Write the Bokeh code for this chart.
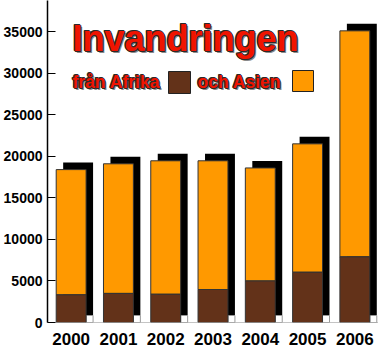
from bokeh.plotting import figure
from bokeh.models import Range1d, FactorRange, FixedTicker, Label, BoxAnnotation, ColumnDataSource
from bokeh.transform import dodge
from bokeh.embed import file_html
from bokeh.resources import INLINE

years = ["2000", "2001", "2002", "2003", "2004", "2005", "2006"]
afrika = [3330, 3500, 3400, 3970, 5000, 6050, 7900]
asien = [15070, 15600, 16060, 15490, 13600, 15450, 27200]
y_ticks = [0, 5000, 10000, 15000, 20000, 25000, 30000, 35000]

total = [a + b for a, b in zip(afrika, asien)]

W, H = 378, 353
LEFT, BOTTOM = 46, 31
FRAME_W = W - LEFT
FRAME_H = H - BOTTOM
YMAX = 38750

px_x = len(years) / FRAME_W      # category units per pixel
px_y = YMAX / FRAME_H           # data units per pixel
SH = 7                          # shadow offset in px

ORANGE = "#FF9900"
BROWN = "#633219"

src = ColumnDataSource(dict(
    years=years, afrika=afrika, total=total,
    sh_bottom=[SH * px_y] * len(years),
    sh_top=[t + SH * px_y for t in total],
    zero=[0] * len(years),
))

p = figure(width=W, height=H, x_range=FactorRange(*years, range_padding=0),
           y_range=Range1d(0, YMAX), output_backend="svg", toolbar_location=None,
           min_border_left=LEFT, min_border_right=0, min_border_top=0,
           min_border_bottom=BOTTOM)
p.outline_line_color = None
p.xgrid.visible = False
p.ygrid.visible = False
p.background_fill_color = "white"

bw = 30 * px_x
# shadow
p.vbar(x=dodge("years", SH * px_x, range=p.x_range), width=bw, bottom="sh_bottom",
       top="sh_top", source=src, fill_color="black", line_color=None)
# small floor box
p.vbar(x=dodge("years", (15 + SH / 2) * px_x, range=p.x_range), width=SH * px_x,
       bottom="zero", top="sh_bottom", source=src, fill_color="white",
       line_color="#999999", line_width=1)
# stacked bars
p.vbar(x="years", width=bw, bottom="afrika", top="total", source=src,
       fill_color=ORANGE, line_color="#333333", line_width=1)
p.vbar(x="years", width=bw, bottom="zero", top="afrika", source=src,
       fill_color=BROWN, line_color="#333333", line_width=1)

# axes
p.yaxis.ticker = FixedTicker(ticks=y_ticks)
p.yaxis.minor_tick_line_color = None
p.yaxis.major_tick_in = 8
p.yaxis.major_tick_out = 0
p.yaxis.major_tick_line_color = "black"
p.yaxis.axis_line_color = "black"
p.yaxis.axis_line_width = 1.5
p.yaxis.major_label_text_font = "Liberation Sans"
p.yaxis.major_label_text_font_style = "bold"
p.yaxis.major_label_text_font_size = "14px"
p.yaxis.major_label_text_color = "black"
p.yaxis.major_label_standoff = 5

p.xaxis.axis_line_color = "#888888"
p.xaxis.axis_line_dash = "1 1"
p.xaxis.major_tick_line_color = None
p.xaxis.major_tick_out = 0
p.xaxis.major_tick_in = 0
p.xaxis.major_label_text_font = "Liberation Sans"
p.xaxis.major_label_text_font_style = "bold"
p.xaxis.major_label_text_font_size = "17px"
p.xaxis.major_label_text_color = "black"
p.xaxis.major_label_standoff = 10


def outlined(text, x, y, size):
    common = dict(x=x, y=y, x_units="screen", y_units="screen", text=text,
                  text_font="Liberation Sans", text_font_style="bold",
                  text_font_size=size, text_baseline="alphabetic")
    p.add_layout(Label(x_offset=2, y_offset=-2, text_color="#8a8a8a", **common))
    for dx, dy in [(-1, 0), (1, 0), (0, -1), (0, 1), (1, -1), (-1, 1)]:
        p.add_layout(Label(x_offset=dx, y_offset=dy, text_color="#2a2a2a", **common))
    p.add_layout(Label(text_color="#F01400", **common))


outlined("Invandringen", 25, FRAME_H - 52 + 14, "36px")
outlined("från Afrika", 25, FRAME_H - 88 + 7, "17.5px")
outlined("och Asien", 150, FRAME_H - 88 + 7, "17.5px")

p.add_layout(BoxAnnotation(left=121, right=143, bottom=229, top=251,
                           left_units="screen", right_units="screen",
                           bottom_units="screen", top_units="screen",
                           fill_color=BROWN, fill_alpha=1, line_color="#222222",
                           line_width=1, line_alpha=1))
p.add_layout(BoxAnnotation(left=245, right=266, bottom=231, top=252,
                           left_units="screen", right_units="screen",
                           bottom_units="screen", top_units="screen",
                           fill_color=ORANGE, fill_alpha=1, line_color="#222222",
                           line_width=1, line_alpha=1))

open("out.html", "w").write(file_html(p, INLINE))
